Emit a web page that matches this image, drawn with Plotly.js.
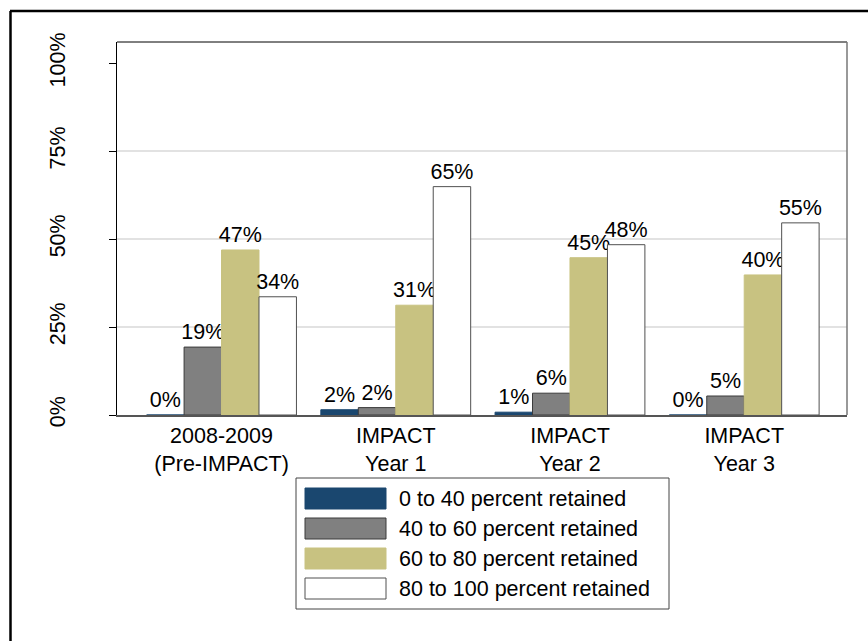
<!DOCTYPE html>
<html>
<head>
<meta charset="utf-8">
<script src="https://cdn.plot.ly/plotly-3.0.1.min.js"></script>
<style>
  html, body { margin: 0; padding: 0; background: #ffffff; }
  #chart { width: 868px; height: 641px; }
</style>
</head>
<body>
<div id="chart"></div>
<script>
// ---- data ----
const categoryLine1 = ["2008-2009", "IMPACT", "IMPACT", "IMPACT"];
const categoryLine2 = ["(Pre-IMPACT)", "Year 1", "Year 2", "Year 3"];
const seriesNames = [
  "0 to 40 percent retained",
  "40 to 60 percent retained",
  "60 to 80 percent retained",
  "80 to 100 percent retained"
];
const pct0to40   = [0, 1.5, 0.8, 0];
const pct40to60  = [19.3, 2.1, 6.2, 5.4];
const pct60to80  = [46.9, 31.2, 44.7, 39.8];
const pct80to100 = [33.6, 64.9, 48.4, 54.6];
const yTickVals  = [0, 25, 50, 75, 100];
const yTickText  = ["0%", "25%", "50%", "75%", "100%"];
const gridVals   = [25, 50, 75];

// ---- style ----
const fillColors = ["#1a476f", "#808080", "#c8c281", "#ffffff"];
const edgeColors = ["#1a476f", "#3a3a3a", "#c8c281", "#505050"];
const FONT = "Liberation Sans, Arial, Helvetica, sans-serif";
const FS = 21.5;

const W = 868, H = 641;
const M = { l: 117, r: 21, t: 42, b: 226 };
const PW = W - M.l - M.r, PH = H - M.t - M.b;
const px2x = p => (p - M.l) / PW;
const py2y = p => (H - M.b - p) / PH;

const xIdx = categoryLine1.map((_, i) => i);
const xTickText = categoryLine1.map((t, i) => t + "<br>" + categoryLine2[i]);
const allSeries = [pct0to40, pct40to60, pct60to80, pct80to100];

const traces = allSeries.map((vals, k) => ({
  type: "bar",
  name: seriesNames[k],
  x: xIdx,
  y: vals,
  marker: { color: fillColors[k], line: { color: edgeColors[k], width: 1 } },
  texttemplate: "%{y:.0f}%",
  textposition: "outside",
  textfont: { family: FONT, size: FS, color: "#000000" },
  constraintext: "none",
  cliponaxis: false,
  hoverinfo: "skip",
  showlegend: false
}));

const shapes = [];
// gridlines
gridVals.forEach(v => shapes.push({
  type: "line", xref: "paper", yref: "y", x0: 0, x1: 1, y0: v, y1: v,
  line: { color: "#e2e2e2", width: 2 }, layer: "below"
}));
// plot frame
shapes.push({ type: "line", xref: "paper", yref: "paper", x0: 0, x1: 1, y0: 1, y1: 1,
  line: { color: "#000000", width: 1 } });
shapes.push({ type: "line", xref: "paper", yref: "paper", x0: 1, x1: 1, y0: 0, y1: 1,
  line: { color: "#777777", width: 1.5 } });
// outer border (top and left visible)
shapes.push({ type: "line", xref: "paper", yref: "paper",
  x0: px2x(10), x1: px2x(W + 5), y0: py2y(11), y1: py2y(11),
  line: { color: "#000000", width: 2.5 } });
shapes.push({ type: "line", xref: "paper", yref: "paper",
  x0: px2x(10.5), x1: px2x(10.5), y0: py2y(11), y1: py2y(H + 5),
  line: { color: "#000000", width: 2.5 } });
// legend box
shapes.push({ type: "rect", xref: "paper", yref: "paper",
  x0: px2x(296), x1: px2x(669), y0: py2y(478), y1: py2y(609),
  line: { color: "#444444", width: 1 }, fillcolor: "rgba(0,0,0,0)" });

const annotations = [];
seriesNames.forEach((name, i) => {
  const top = 488 + 30 * i;
  shapes.push({ type: "rect", xref: "paper", yref: "paper",
    x0: px2x(305), x1: px2x(386), y0: py2y(top), y1: py2y(top + 21),
    fillcolor: fillColors[i], line: { color: edgeColors[i], width: 1 } });
  annotations.push({ xref: "paper", yref: "paper", x: px2x(397), y: py2y(top + 11),
    xanchor: "left", yanchor: "middle", showarrow: false, text: name,
    font: { family: FONT, size: FS, color: "#000000" } });
});

const layout = {
  width: W, height: H,
  margin: M,
  paper_bgcolor: "#ffffff",
  plot_bgcolor: "#ffffff",
  barmode: "group",
  bargap: 0.14,
  bargroupgap: 0,
  showlegend: false,
  font: { family: FONT, size: FS, color: "#000000" },
  xaxis: {
    type: "linear",
    range: [-0.6, 3.59],
    tickmode: "array",
    tickvals: xIdx,
    ticktext: xTickText,
    ticks: "",
    showgrid: false,
    zeroline: false,
    showline: true, linecolor: "#555555", linewidth: 2,
    tickfont: { family: FONT, size: FS, color: "#000000" },
    ticklabelstandoff: 0,
    fixedrange: true
  },
  yaxis: {
    range: [0, 106],
    tickmode: "array",
    tickvals: yTickVals,
    ticktext: yTickText,
    ticks: "outside", ticklen: 7, tickcolor: "#000000", tickwidth: 1,
    tickangle: -90,
    showgrid: false,
    zeroline: false,
    showline: true, linecolor: "#000000", linewidth: 1,
    tickfont: { family: FONT, size: FS, color: "#000000" },
    ticklabelstandoff: 35,
    fixedrange: true
  },
  shapes: shapes,
  annotations: annotations
};

Plotly.newPlot("chart", traces, layout, { staticPlot: true, displayModeBar: false });
</script>
</body>
</html>
